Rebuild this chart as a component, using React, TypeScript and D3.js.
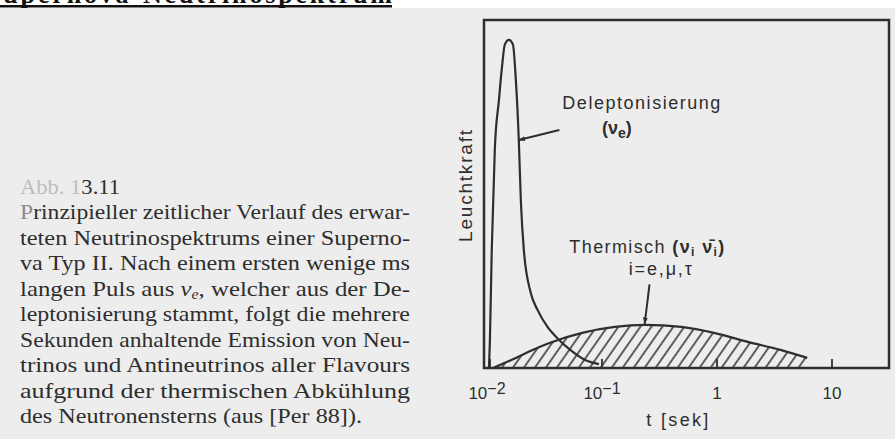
import React, { useEffect } from 'react';
import * as d3 from 'd3';

const W = 895;
const H = 439;

// Deleptonisierungs-Puls (nu_e): Zeit [s], Leuchtkraft [willk. Einh.]
const peakTime = [0.0104, 0.0106, 0.011, 0.0117, 0.0127, 0.0135, 0.0143, 0.0155, 0.0168, 0.0178, 0.0189, 0.0197, 0.0209, 0.024, 0.0275, 0.0336, 0.0426, 0.053, 0.0713, 0.094];
const peakLum = [0, 8, 34, 63, 77, 86.5, 93, 94.3, 93, 83, 65.5, 48, 34, 21.6, 16.7, 11.8, 8, 5.2, 2.3, 1.1];

// Thermische Emission (alle Flavours)
const thermalTime = [0.0113, 0.0178, 0.0249, 0.0349, 0.0673, 0.129, 0.235, 0.49, 0.942, 1.85, 3.56, 6.09];
const thermalLum = [0, 2.9, 5.2, 7.2, 10.1, 11.8, 12.4, 11.8, 10.1, 7.5, 5.2, 2.9];

// Achse
const tickValues = [0.01, 0.1, 1, 10];
const tickBase = ['10', '10', '1', '10'];
const tickExp = ['\u22122', '\u22121', '', ''];

// Bildunterschrift
const captionLines = [
  'teten Neutrinospektrums einer Superno-',
  'va Typ II. Nach einem ersten wenige ms',
  '',
  'leptonisierung stammt, folgt die mehrere',
  'Sekunden anhaltende Emission von Neu-',
  'trinos und Antineutrinos aller Flavours',
  'aufgrund der thermischen Abk\u00fchlung',
];

// Annotationen in Datenkoordinaten [t, L]
const delepLabel = [0.0452, 74.4];
const delepSub = [0.1, 67.2];
const delepArrow = [[0.0426, 68.4], [0.0189, 65.5]];
const thermLabel = [0.052, 33.0];
const thermSub = [0.171, 26.8];
const thermArrow = [[0.259, 24.0], [0.235, 12.7]];

const ink = '#2e2e2e';
const paper = '#ededed';
const sans = '"Liberation Sans", Arial, sans-serif';
const serif = '"Liberation Serif", "Times New Roman", serif';

export default function App() {
  useEffect(() => {
    document.body.style.margin = '0';
  }, []);

  const frame = { left: 484, top: 20, right: 889, bottom: 368 };
  const x = d3.scaleLog().domain([0.01, 10]).range([487, 832]);
  const y = d3.scaleLinear().domain([0, 100]).range([frame.bottom, frame.top]);

  const peak = peakTime.map((t, i) => [t, peakLum[i]] as [number, number]);
  const thermal = thermalTime.map((t, i) => [t, thermalLum[i]] as [number, number]);

  const line = d3
    .line<[number, number]>()
    .x((d) => x(d[0]))
    .y((d) => y(d[1]))
    .curve(d3.curveMonotoneX);
  const area = d3
    .area<[number, number]>()
    .x((d) => x(d[0]))
    .y0(y(0))
    .y1((d) => y(d[1]))
    .curve(d3.curveMonotoneX);

  const baseY = 219;
  const lh = 25.5;
  const capX = 20;
  const capW = 390;

  return (
    <svg width={W} height={H} style={{ position: 'absolute', left: 0, top: 0, display: 'block' }}>
      <defs>
        <pattern id="hatch" patternUnits="userSpaceOnUse" width={9} height={9} patternTransform="rotate(35)">
          <line x1={1} y1={0} x2={1} y2={9} stroke={ink} strokeWidth={1.5} />
        </pattern>
        <marker id="arrow" viewBox="0 0 10 10" refX={9} refY={5} markerWidth={7} markerHeight={7} orient="auto" markerUnits="userSpaceOnUse">
          <path d="M0,1.5 L10,5 L0,8.5 Z" fill={ink} />
        </marker>
      </defs>

      <rect x={0} y={0} width={W} height={H} fill={paper} />
      <rect x={0} y={0} width={W} height={8} fill="#ffffff" />

      {/* Titel (oben abgeschnitten) */}
      <text x={-14} y={3} fontFamily={serif} fontWeight="bold" fontSize={26} textLength={406} lengthAdjust="spacing" fill="#111">
        Supernova-Neutrinospektrum
      </text>
      <rect x={0} y={5} width={392} height={2.5} fill="#111" />

      {/* Bildunterschrift */}
      <g fontFamily={serif} fontSize={22} fill={ink}>
        <text x={capX} y={194} textLength={100} lengthAdjust="spacingAndGlyphs">
          <tspan fill="#bdbdbd">Abb. 1</tspan>
          <tspan>3.11</tspan>
        </text>
        <text x={capX} y={baseY} textLength={capW} lengthAdjust="spacingAndGlyphs">
          <tspan fill="#8a8a8a">P</tspan>rinzipieller zeitlicher Verlauf des erwar-
        </text>
        {captionLines.map((l, i) =>
          l ? (
            <text key={i} x={capX} y={baseY + (i + 1) * lh} textLength={capW} lengthAdjust="spacingAndGlyphs">
              {l}
            </text>
          ) : (
            <text key={i} x={capX} y={baseY + (i + 1) * lh} textLength={capW} lengthAdjust="spacingAndGlyphs">
              langen Puls aus <tspan fontStyle="italic">{'\u03bd'}</tspan>
              <tspan fontStyle="italic" fontSize={14} dy={3}>e</tspan>
              <tspan dy={-3}>, welcher aus der De-</tspan>
            </text>
          )
        )}
        <text x={capX} y={baseY + 8 * lh} textLength={342} lengthAdjust="spacingAndGlyphs">
          des Neutronensterns (aus [Per 88]).
        </text>
      </g>

      {/* Diagramm */}
      <path d={area(thermal) || ''} fill="url(#hatch)" />
      <path d={line(thermal) || ''} fill="none" stroke={ink} strokeWidth={2.2} />
      <path d={line(peak) || ''} fill="none" stroke={ink} strokeWidth={2.2} />

      <rect
        x={frame.left}
        y={frame.top}
        width={frame.right - frame.left}
        height={frame.bottom - frame.top}
        fill="none"
        stroke={ink}
        strokeWidth={2.5}
      />

      {tickValues.map((v, i) => (
        <g key={v}>
          <line x1={x(v) + (i === 0 ? 3 : 0)} x2={x(v) + (i === 0 ? 3 : 0)} y1={y(0)} y2={y(0) - 9} stroke={ink} strokeWidth={1.8} />
          <text x={x(v)} y={399} textAnchor="middle" fontFamily={sans} fontSize={17} fill={ink}>
            {tickBase[i]}
            {tickExp[i] ? (
              <tspan dy={-5} fontSize={16}>
                {tickExp[i]}
              </tspan>
            ) : null}
          </text>
        </g>
      ))}

      <text x={x(0.452)} y={426} textAnchor="middle" fontFamily={sans} fontSize={18} fill={ink} textLength={62} lengthAdjust="spacing">
        t [sek]
      </text>

      <text
        transform={`translate(465,${y(52.3)}) rotate(-90)`}
        textAnchor="middle"
        dominantBaseline="central"
        fontFamily={sans}
        fontSize={19}
        fill={ink}
        textLength={112}
        lengthAdjust="spacing"
      >
        Leuchtkraft
      </text>

      {/* Annotationen */}
      <g fontFamily={sans} fill={ink}>
        <text x={x(delepLabel[0])} y={y(delepLabel[1])} fontSize={18} textLength={158} lengthAdjust="spacing">
          Deleptonisierung
        </text>
        <text x={x(delepSub[0])} y={y(delepSub[1])} fontSize={18} fontWeight="bold">
          ({'\u03bd'}
          <tspan fontSize={14} dy={4}>e</tspan>
          <tspan dy={-4}>)</tspan>
        </text>
        <line
          x1={x(delepArrow[0][0])}
          y1={y(delepArrow[0][1])}
          x2={x(delepArrow[1][0])}
          y2={y(delepArrow[1][1])}
          stroke={ink}
          strokeWidth={2}
          markerEnd="url(#arrow)"
        />

        <text x={x(thermLabel[0])} y={y(thermLabel[1])} fontSize={18} textLength={155} lengthAdjust="spacing">
          Thermisch <tspan fontWeight="bold">({'\u03bd'}</tspan>
          <tspan fontSize={12} dy={3} fontWeight="bold">i</tspan>
          <tspan dy={-3} fontWeight="bold"> {'\u03bd\u0304'}</tspan>
          <tspan fontSize={12} dy={3} fontWeight="bold">i</tspan>
          <tspan dy={-3} fontWeight="bold">)</tspan>
        </text>
        <text x={x(thermSub[0])} y={y(thermSub[1])} fontSize={18} textLength={63} lengthAdjust="spacing">
          i=e,{'\u03bc'},{'\u03c4'}
        </text>
        <line
          x1={x(thermArrow[0][0])}
          y1={y(thermArrow[0][1])}
          x2={x(thermArrow[1][0])}
          y2={y(thermArrow[1][1])}
          stroke={ink}
          strokeWidth={2}
          markerEnd="url(#arrow)"
        />
      </g>
    </svg>
  );
}
